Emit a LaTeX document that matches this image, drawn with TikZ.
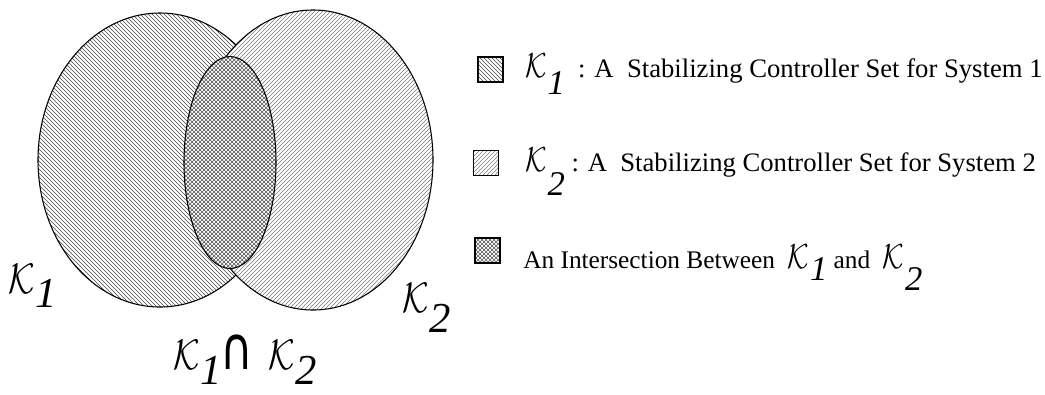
\RequirePackage{fix-cm}
\documentclass[tikz,border=0pt]{standalone}
\usepackage{graphicx}
\usepackage{fontspec}
\setmainfont{Liberation Serif}
\newfontfamily\symfont{DejaVu Sans}
\usepackage{tikz}
\usetikzlibrary{patterns}
\definecolor{hatchdark}{HTML}{484848}
\definecolor{hatchlight}{HTML}{7C7C7C}
\definecolor{meshgray}{HTML}{505050}
% calligraphic set name with a big, lowered index
\newcommand{\calK}{\scalebox{0.8}[1]{$\mathcal{K}$}}
\newcommand{\setK}[2][0.33em]{\calK\kern0.02em\raisebox{-#1}{\itshape #2}}

\begin{document}
\begin{tikzpicture}[x=0.75pt,y=-0.75pt,
    setline/.style={line width=0.8pt,black},
    biglabel/.style={inner sep=0pt,anchor=base west,font=\fontsize{32}{38}\selectfont},
    keytext/.style={inner sep=0pt,anchor=base west,font=\fontsize{20}{24}\selectfont},
    keybox/.style={draw,line width=0.8pt,minimum size=18.75pt,inner sep=0pt}]
  \useasboundingbox (0,0) rectangle (1045,394);
  % K1, then K2 on top of it, then the intersection
  \draw[setline,preaction={fill=white},pattern=north west lines,pattern color=hatchdark]
    (160,160) ellipse [x radius=122,y radius=147];
  \draw[setline,preaction={fill=white},pattern=north east lines,pattern color=hatchlight]
    (313,160) ellipse [x radius=120,y radius=150];
  \draw[setline,preaction={fill=white},pattern=crosshatch,pattern color=meshgray]
    (230,162.5) ellipse [x radius=46,y radius=106];
  % set names
  \node[biglabel] (lblA) at (8,293) {\setK{1}};
  \node[biglabel] (lblB) at (402,312) {\setK[0.48em]{2}};
  \node[biglabel] (lblAB) at (173,369)
    {\setK[0.36em]{1}\kern-1pt\scalebox{1.05}[1.4]{\symfont ∩}\hspace{11pt}\setK[0.36em]{2}};
  % legend
  \foreach \n/\pat/\col/\xc/\yc in {A/north west lines/hatchdark/490.5/69.5,
      B/north east lines/hatchlight/486/163,C/crosshatch/meshgray/487.5/250.5}
    \node[keybox,pattern=\pat,pattern color=\col] (box\n) at (\xc,\yc) {};
  \node[keytext] (keyA) at (525,77)
    {{\fontsize{26}{30}\selectfont\setK[0.5em]{1}}\ \ : A\ \ Stabilizing Controller Set for System 1};
  \node[keytext] (keyB) at (525,171)
    {{\fontsize{26}{30}\selectfont\setK[0.7em]{2}}\ : A\ \ Stabilizing Controller Set for System 2};
  \node[keytext,font=\fontsize{19}{23}\selectfont] (keyC) at (523,268)
    {An Intersection Between\ \ {\fontsize{26}{30}\selectfont\setK[0.35em]{1}} and\ \ {\fontsize{26}{30}\selectfont\setK[0.65em]{2}}};
\end{tikzpicture}
\end{document}
